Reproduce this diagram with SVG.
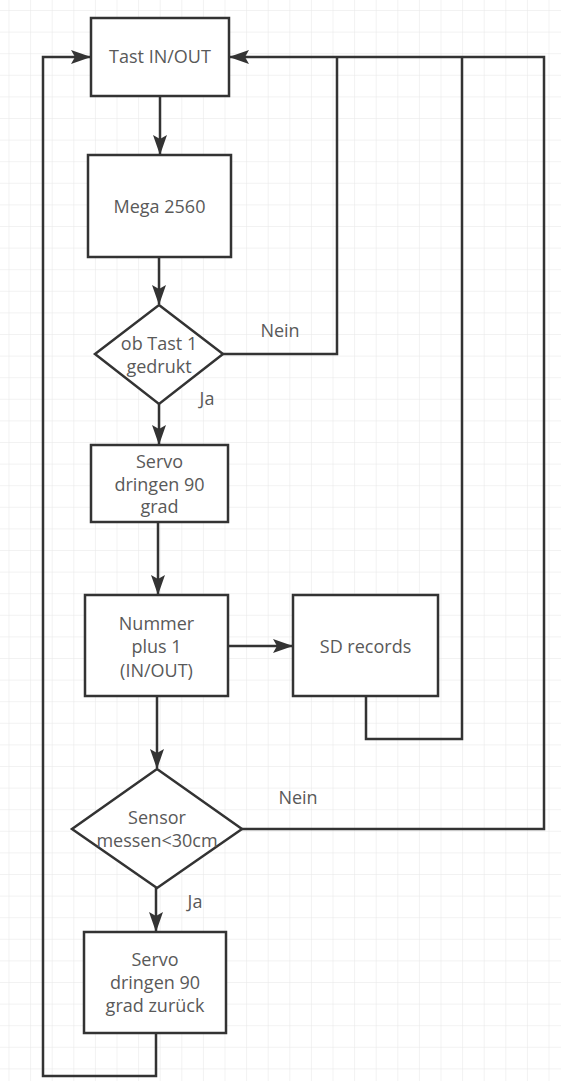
<svg xmlns="http://www.w3.org/2000/svg" width="561" height="1081" viewBox="0 0 561 1081">
<defs>
<pattern id="grid" x="8.5" y="10" width="21.6" height="21.6" patternUnits="userSpaceOnUse">
<path d="M21.6 0 L0 0 L0 21.6" fill="none" stroke="#e6e6e6" stroke-width="1"/>
</pattern>
<marker id="arr" viewBox="0 0 20 14" refX="19" refY="7" markerWidth="20" markerHeight="14" markerUnits="userSpaceOnUse" orient="auto">
<path d="M0 0 L20 7 L0 14 L4 7 Z" fill="#333"/>
</marker>
<style>
.box{fill:#fff;stroke:#333;stroke-width:2.5}
.ln{fill:none;stroke:#333;stroke-width:2.5}
.t{font-family:"Open Sans","Noto Sans",sans-serif;font-size:18px;fill:#595959;text-anchor:middle}
.lb{font-family:"Open Sans","Noto Sans",sans-serif;font-size:18px;fill:#595959;text-anchor:middle}
</style>
</defs>
<rect width="561" height="1081" fill="#fff"/>
<rect width="561" height="1081" fill="url(#grid)"/>
<g id="connectors">
<path class="ln" d="M160 96 L160 154" marker-end="url(#arr)"/>
<path class="ln" d="M159 257 L159 304" marker-end="url(#arr)"/>
<path class="ln" d="M159 404 L159 444" marker-end="url(#arr)"/>
<path class="ln" d="M158 522 L158 594" marker-end="url(#arr)"/>
<path class="ln" d="M157 696 L157 768" marker-end="url(#arr)"/>
<path class="ln" d="M228 646 L292 646" marker-end="url(#arr)"/>
<path class="ln" d="M156 888 L156 931" marker-end="url(#arr)"/>
<path class="ln" d="M223 354 L337 354 L337 57"/>
<path class="ln" d="M366 696 L366 739 L462 739 L462 57"/>
<path class="ln" d="M242 829 L544 829 L544 57 L230 57" marker-end="url(#arr)"/>
<path class="ln" d="M156 1033 L156 1076 L43 1076 L43 57 L90 57" marker-end="url(#arr)"/>
<text class="lb" x="280" y="337">Nein</text>
<text class="lb" x="207" y="405">Ja</text>
<text class="lb" x="298" y="804">Nein</text>
<text class="lb" x="195" y="908">Ja</text>
</g>
<g id="tast">
<rect class="box" x="91" y="18" width="138" height="78"/>
<text class="t" x="160" y="63">Tast IN/OUT</text>
</g>
<g id="mega">
<rect class="box" x="88" y="155" width="143" height="102"/>
<text class="t" x="159.5" y="213">Mega 2560</text>
</g>
<g id="decision1">
<polygon class="box" points="159,305 223,354 159,404 95,354"/>
<text class="t" x="159" y="350">ob Tast 1</text>
<text class="t" x="159" y="373">gedrukt</text>
</g>
<g id="servo1">
<rect class="box" x="91" y="445" width="137" height="77"/>
<text class="t" x="159.5" y="468">Servo</text>
<text class="t" x="159.5" y="491">dringen 90</text>
<text class="t" x="159.5" y="513">grad</text>
</g>
<g id="nummer">
<rect class="box" x="85" y="595" width="143" height="101"/>
<text class="t" x="156.5" y="630">Nummer</text>
<text class="t" x="156.5" y="653">plus 1</text>
<text class="t" x="156.5" y="677">(IN/OUT)</text>
</g>
<g id="sd">
<rect class="box" x="293" y="595" width="145" height="101"/>
<text class="t" x="365.5" y="653">SD records</text>
</g>
<g id="decision2">
<polygon class="box" points="157,769 242,829 157,888 72,829"/>
<text class="t" x="157" y="824">Sensor</text>
<text class="t" x="157" y="847">messen&lt;30cm</text>
</g>
<g id="servo2">
<rect class="box" x="84" y="932" width="142" height="101"/>
<text class="t" x="155" y="966">Servo</text>
<text class="t" x="155" y="989">dringen 90</text>
<text class="t" x="155" y="1012">grad zurück</text>
</g>
</svg>
